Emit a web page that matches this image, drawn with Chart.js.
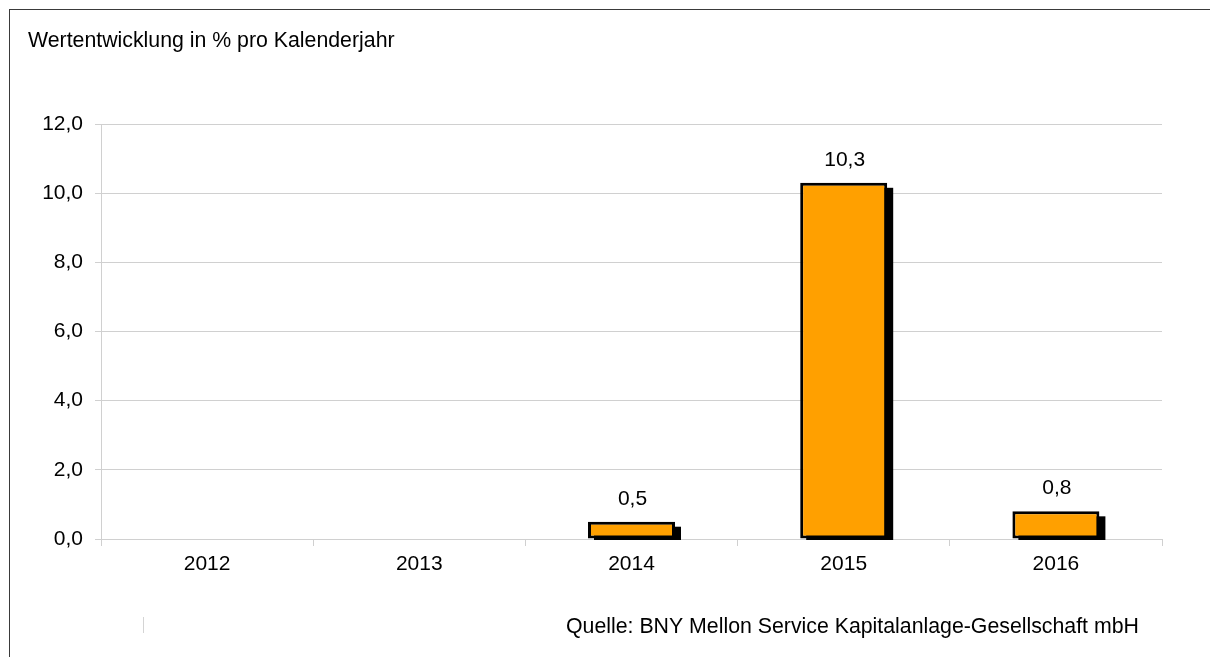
<!DOCTYPE html>
<html>
<head>
<meta charset="utf-8">
<script src="https://cdn.jsdelivr.net/npm/chart.js@4/dist/chart.umd.min.js"></script>
<style>
  html, body { margin: 0; padding: 0; background: #fff; }
  #wrap { position: relative; width: 1210px; height: 657px; overflow: hidden; }
  #frame { position: absolute; left: 9px; top: 9px; width: 1210px; height: 700px;
           border-left: 1px solid #3a3a3a; border-top: 1px solid #3a3a3a; }
  #stray { position: absolute; left: 143px; top: 617px; width: 1px; height: 16px; background: #d4d4d4; }
  canvas { position: absolute; left: 0; top: 0; }
</style>
</head>
<body>
<div id="wrap">
  <div id="frame"></div>
  <div id="stray"></div>
  <canvas id="chart" width="1210" height="657"></canvas>
</div>
<script>
const years = ['2012', '2013', '2014', '2015', '2016']
const performance = [null, null, 0.5, 10.3, 0.8]
const yTicks = { min: 0, max: 12, step: 2 }
const titleText = 'Wertentwicklung in % pro Kalenderjahr'
const sourceText = 'Quelle: BNY Mellon Service Kapitalanlage-Gesellschaft mbH'

const FONT = '"Liberation Sans", Arial, sans-serif'
const fmt = v => v.toFixed(1).replace('.', ',')

// black drop shadow behind each bar, clipped at the baseline
const barShadow = {
  id: 'barShadow',
  beforeDatasetsDraw(chart) {
    const ctx = chart.ctx
    const meta = chart.getDatasetMeta(0)
    ctx.save()
    ctx.fillStyle = '#000'
    meta.data.forEach((bar, i) => {
      if (performance[i] == null) return
      const { x, y, base, width } = bar.getProps(['x', 'y', 'base', 'width'], true)
      ctx.fillRect(x - width / 2 + 6, y + 5, width, base - y - 5 + 1.5)
    })
    ctx.restore()
  }
}

// value labels above bars + title and source text
const labelsAndText = {
  id: 'labelsAndText',
  afterDatasetsDraw(chart) {
    const ctx = chart.ctx
    const meta = chart.getDatasetMeta(0)
    ctx.save()
    ctx.fillStyle = '#000'
    ctx.font = '21px ' + FONT
    ctx.textAlign = 'center'
    ctx.textBaseline = 'alphabetic'
    meta.data.forEach((bar, i) => {
      if (performance[i] == null) return
      ctx.fillText(fmt(performance[i]), bar.x + 1, bar.y - 17)
    })
    ctx.textAlign = 'left'
    ctx.font = '21.3px ' + FONT
    ctx.fillText(titleText, 28, 47)
    ctx.fillText(sourceText, 566, 633)
    ctx.restore()
  }
}

new Chart(document.getElementById('chart'), {
  type: 'bar',
  data: {
    labels: years,
    datasets: [{
      data: performance,
      backgroundColor: '#ffa000',
      borderColor: '#000',
      borderWidth: 3,
      borderSkipped: false,
      categoryPercentage: 1,
      barPercentage: 0.41
    }]
  },
  options: {
    responsive: false,
    animation: false,
    layout: { padding: { left: 0, right: 48, top: 124, bottom: 58 } },
    plugins: { legend: { display: false }, tooltip: { enabled: false } },
    scales: {
      x: {
        afterFit: s => { s.height = 60 },
        grid: { offset: true, drawOnChartArea: false, drawTicks: true, tickLength: 7, color: '#d0d0d0' },
        border: { display: true, color: '#d0d0d0', width: 1 },
        ticks: { color: '#000', font: { family: FONT, size: 21 }, padding: 6 }
      },
      y: {
        min: yTicks.min,
        max: yTicks.max,
        afterFit: s => { s.width = 101 },
        grid: { color: '#d0d0d0', drawTicks: true, tickLength: 6 },
        border: { display: true, color: '#d0d0d0', width: 1 },
        ticks: {
          stepSize: yTicks.step,
          color: '#000',
          font: { family: FONT, size: 21 },
          padding: 12,
          callback: v => fmt(v)
        }
      }
    }
  },
  plugins: [barShadow, labelsAndText]
})
</script>
</body>
</html>
